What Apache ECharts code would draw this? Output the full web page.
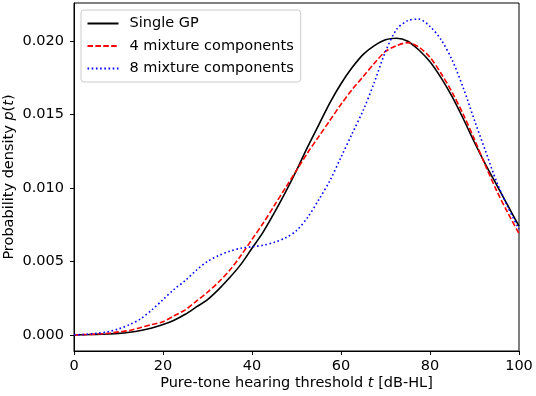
<!DOCTYPE html>
<html>
<head>
<meta charset="utf-8">
<script src="https://cdn.jsdelivr.net/npm/echarts@6/dist/echarts.min.js"></script>
<style>
html, body { margin: 0; padding: 0; background: #fff; }
#chart { width: 536px; height: 396px; }
</style>
</head>
<body>
<div id="chart"></div>
<script>
// hearing threshold grid (dB-HL)
var tList = [0, 2.5, 5, 7.5, 10, 12.5, 15, 17.5, 20, 22.5, 25, 27.5, 30, 32.5, 35, 37.5, 40, 42.5, 45, 47.5, 50,
	52.5, 55, 57.5, 60, 62.5, 65, 67.5, 70, 72.5, 75, 77.5, 80, 82.5, 85, 87.5, 90, 92.5, 95, 97.5, 100];
var singleGPList = [0, 0.00001, 0.00003, 0.00006, 0.0001, 0.00018, 0.0003, 0.00047, 0.0007, 0.001, 0.0014, 0.0019, 0.0024, 0.0031, 0.0039, 0.0048, 0.0059, 0.0070, 0.0083, 0.0097, 0.0112,
	0.0128, 0.0143, 0.0158, 0.0171, 0.0182, 0.0191, 0.0197, 0.0201, 0.0202, 0.0200, 0.0194, 0.0186, 0.0175, 0.0162, 0.0147, 0.0131, 0.0116, 0.0102, 0.0088, 0.0074];
var mix4List = [0, 0.00002, 0.00005, 0.0001, 0.0002, 0.0003, 0.0005, 0.0007, 0.0009, 0.0013, 0.0017, 0.0023, 0.0029, 0.0036, 0.0044, 0.0054, 0.0065, 0.0076, 0.0088, 0.01, 0.0112,
	0.0124, 0.0135, 0.0146, 0.0157, 0.0167, 0.0176, 0.0185, 0.0193, 0.0197, 0.0199, 0.0196, 0.0189, 0.0178, 0.0165, 0.0150, 0.0133, 0.0115, 0.0098, 0.0083, 0.0069];
var mix8List = [0, 0.00003, 0.0001, 0.0002, 0.0004, 0.0007, 0.0011, 0.0017, 0.0024, 0.0031, 0.0037, 0.0044, 0.0050, 0.0054, 0.0057, 0.0059, 0.0060, 0.0061, 0.0063, 0.0066, 0.0071,
	0.0080, 0.0092, 0.0105, 0.0121, 0.0137, 0.0153, 0.0172, 0.0193, 0.0208, 0.0214, 0.0215, 0.0210, 0.0201, 0.0187, 0.0168, 0.0146, 0.0125, 0.0104, 0.0087, 0.0072];
var legendList = ['Single GP', '4 mixture components', '8 mixture components'];
var yTicks = [0, 0.005, 0.010, 0.015, 0.020];

var font = 'DejaVu Sans';
var fs = 14.5;

function pairs(ys) {
	var out = [];
	for (var i = 0; i < tList.length; i++) {
		out.push([tList[i], ys[i]]);
	}
	return out;
}

var chart = echarts.init(document.getElementById('chart'), null, { renderer: 'canvas' });

var nameRich = {
	a: { fontFamily: font, fontSize: fs, color: '#000' },
	i: { fontFamily: font, fontSize: fs, color: '#000', fontStyle: 'italic' }
};

var option = {
	animation: false,
	backgroundColor: '#fff',
	grid: {
		left: 74,
		right: 17,
		top: 3,
		bottom: 45,
		containLabel: false,
		outerBoundsMode: 'none',
		show: true,
		borderColor: '#000',
		borderWidth: 1,
		backgroundColor: 'transparent'
	},
	legend: {
		data: legendList,
		orient: 'vertical',
		left: 81,
		top: 10,
		itemWidth: 31,
		itemHeight: 14,
		itemGap: 7.5,
		padding: [6, 7, 6, 5.5],
		backgroundColor: 'rgba(255,255,255,0.85)',
		borderColor: '#cccccc',
		borderWidth: 1,
		borderRadius: 3,
		itemStyle: { opacity: 0 },
		textStyle: {
			fontFamily: font,
			fontSize: fs,
			color: '#000',
			padding: [0, 0, 0, 6]
		}
	},
	xAxis: {
		type: 'value',
		min: 0,
		max: 100,
		interval: 20,
		name: '{a|Pure-tone hearing threshold }{i|t}{a| [dB-HL]}',
		nameLocation: 'middle',
		nameGap: 25,
		nameMoveOverlap: false,
		nameTextStyle: { rich: nameRich },
		axisLine: { show: true, onZero: false, lineStyle: { color: '#000', width: 1 } },
		axisTick: { show: true, length: 4, lineStyle: { color: '#000' } },
		axisLabel: {
			fontFamily: font,
			fontSize: fs,
			color: '#000',
			margin: 8
		},
		splitLine: { show: false }
	},
	yAxis: {
		type: 'value',
		min: -0.0011,
		max: 0.0226,
		name: '{a|Probability density }{i|p}{a|(}{i|t}{a|)}',
		nameLocation: 'middle',
		nameGap: 57,
		nameMoveOverlap: false,
		nameRotate: 90,
		nameTextStyle: { rich: nameRich },
		axisLine: { show: true, onZero: false, lineStyle: { color: '#000', width: 1 } },
		axisTick: { show: true, length: 4, lineStyle: { color: '#000' }, customValues: yTicks },
		axisLabel: {
			fontFamily: font,
			fontSize: fs,
			color: '#000',
			margin: 10,
			customValues: yTicks,
			formatter: function(v) { return v.toFixed(3); }
		},
		splitLine: { show: false }
	},
	series: [{
		name: legendList[0],
		type: 'line',
		data: pairs(singleGPList),
		smooth: 0.3,
		symbol: 'none',
		lineStyle: { color: '#000000', width: 1.6, type: 'solid' },
		itemStyle: { color: '#000000' }
	}, {
		name: legendList[1],
		type: 'line',
		data: pairs(mix4List),
		smooth: 0.3,
		symbol: 'none',
		lineStyle: { color: '#ff0000', width: 1.6, type: [5.5, 2.4] },
		itemStyle: { color: '#ff0000' }
	}, {
		name: legendList[2],
		type: 'line',
		data: pairs(mix8List),
		smooth: 0.3,
		symbol: 'none',
		lineStyle: { color: '#0000ff', width: 1.6, type: [1.6, 2.6] },
		itemStyle: { color: '#0000ff' }
	}]
};

chart.setOption(option);
</script>
</body>
</html>
